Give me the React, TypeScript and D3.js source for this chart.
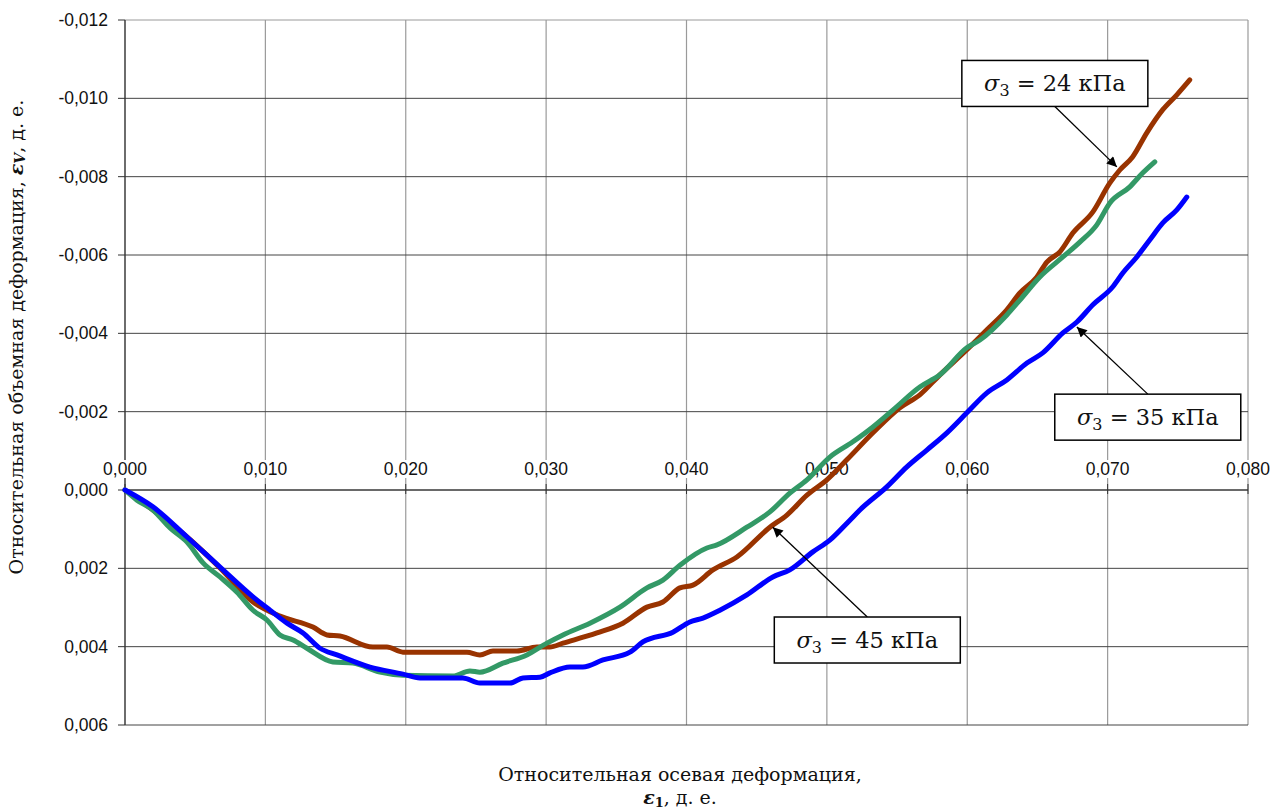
import React from "react";
import * as d3 from "d3";

// strain values in thousandths (x = axial strain, y = volumetric strain, + is compression)
const curve24: [number, number][] = [
  [0, 0], [1.99, 0.51], [4.42, 1.2], [6.77, 1.99], [9.12, 2.86], [11.04, 3.22], [13.39, 3.5],
  [14.39, 3.7], [15.31, 3.73], [17.66, 4.01], [18.66, 4.01], [19.8, 4.14], [24.36, 4.14],
  [25.28, 4.21], [26.21, 4.11], [27.92, 4.11], [29.34, 4.01], [30.27, 4.01], [31.2, 3.91],
  [33.62, 3.65], [35.47, 3.4], [37.18, 2.99], [38.32, 2.86], [39.53, 2.5], [40.46, 2.43],
  [41.88, 2.04], [43.59, 1.71], [45.94, 0.95], [47.15, 0.64], [48.58, 0.13], [50.0, -0.26],
  [51.42, -0.77], [53.28, -1.46], [55.2, -2.1], [56.62, -2.43], [58.05, -2.94], [59.97, -3.58],
  [61.4, -4.09], [62.82, -4.6], [63.75, -5.03], [64.96, -5.44], [65.67, -5.82], [66.6, -6.08],
  [67.52, -6.56], [68.95, -7.1], [70.16, -7.84], [70.87, -8.17], [71.79, -8.51], [72.79, -9.12],
  [73.93, -9.71], [74.93, -10.09], [75.85, -10.47],
];

const curve35: [number, number][] = [
  [0, 0], [1.99, 0.43], [4.42, 1.2], [6.77, 1.97], [9.12, 2.73], [10.33, 3.07], [11.54, 3.4],
  [12.68, 3.65], [13.89, 4.04], [15.1, 4.21], [17.45, 4.52], [19.8, 4.7], [21.01, 4.8],
  [24.07, 4.8], [25.28, 4.93], [27.42, 4.93], [28.35, 4.8], [29.56, 4.78], [30.27, 4.67],
  [31.7, 4.52], [32.62, 4.52], [34.05, 4.34], [35.97, 4.14], [36.89, 3.88], [39.03, 3.63],
  [40.24, 3.37], [41.17, 3.27], [42.38, 3.07], [44.3, 2.68], [46.15, 2.22], [47.36, 2.04],
  [49.0, 1.58], [50.21, 1.28], [51.64, 0.77], [52.35, 0.51], [54.27, -0.08], [55.7, -0.59],
  [57.12, -1.02], [58.55, -1.46], [59.97, -1.97], [61.4, -2.48], [62.82, -2.81], [64.25, -3.24],
  [65.38, -3.5], [66.81, -4.01], [67.81, -4.29], [68.95, -4.73], [70.37, -5.19], [71.08, -5.54],
  [72.08, -5.95], [73.01, -6.39], [73.93, -6.82], [74.93, -7.15], [75.64, -7.48],
];

const curve45: [number, number][] = [
  [0, 0], [0.85, 0.26], [1.99, 0.51], [3.21, 0.97], [4.42, 1.33], [5.56, 1.86], [6.77, 2.22],
  [7.98, 2.61], [9.12, 3.07], [10.11, 3.32], [11.04, 3.7], [11.97, 3.83], [12.96, 4.04],
  [14.81, 4.39], [16.24, 4.42], [18.16, 4.65], [19.8, 4.73], [23.36, 4.75], [24.57, 4.62],
  [25.28, 4.65], [26.92, 4.42], [28.63, 4.21], [30.06, 3.91], [31.2, 3.7], [33.12, 3.4],
  [35.26, 2.99], [37.18, 2.5], [38.32, 2.3], [39.53, 1.92], [41.45, 1.48], [42.17, 1.4],
  [44.3, 0.95], [45.94, 0.56], [47.36, 0.08], [48.58, -0.26], [50.21, -0.84], [51.85, -1.23],
  [53.28, -1.61], [54.7, -2.04], [56.62, -2.63], [58.05, -2.94], [59.97, -3.63], [60.9, -3.83],
  [62.82, -4.47], [63.75, -4.85], [65.17, -5.44], [66.81, -5.95], [68.02, -6.33], [69.23, -6.77],
  [70.16, -7.33], [71.58, -7.74], [72.51, -8.1], [73.36, -8.38],
];

const xTicks = [0, 10, 20, 30, 40, 50, 60, 70, 80];
const yTicks = [-12, -10, -8, -6, -4, -2, 0, 2, 4, 6];

// label: pressure, box centre and arrow tip (data units)
const labels = [
  { p: "24", box: [66.24, -10.38], tip: [70.66, -8.25] },
  { p: "35", box: [72.86, -1.86], tip: [67.81, -4.16] },
  { p: "45", box: [52.88, 3.83], tip: [46.15, 0.95] },
];

const series = [
  { data: curve24, color: "#993300" },
  { data: curve45, color: "#339966" },
  { data: curve35, color: "#0000ff" },
];

const fmt = (v: number) => (v === 0 ? "0,000" : (v / 1000).toFixed(3).replace(".", ","));

export default function App() {
  const W = 1275, H = 811;
  const left = 125, right = 1248, top = 20, bottom = 725;
  const x = d3.scaleLinear().domain([0, 80]).range([left, right]);
  const y = d3.scaleLinear().domain([-12, 6]).range([top, bottom]);
  const line = d3
    .line<[number, number]>()
    .x((d) => x(d[0]))
    .y((d) => y(d[1]))
    .curve(d3.curveMonotoneX);

  const serif = "'DejaVu Serif', serif";
  const sans = "'Liberation Sans', Arial, sans-serif";
  const bw = 186, bh = 46;

  return (
    <svg width={W} height={H} style={{ position: "absolute", left: 0, top: 0, background: "#fff" }}>
      <defs>
        <marker id="arr" viewBox="0 0 10 10" refX="10" refY="5" markerWidth="13" markerHeight="10" markerUnits="userSpaceOnUse" orient="auto">
          <path d="M0,0 L10,5 L0,10 z" fill="#000" />
        </marker>
      </defs>

      {/* grid */}
      {xTicks.map((t) => (
        <line key={"vx" + t} x1={x(t)} x2={x(t)} y1={top} y2={bottom} stroke="#9a9a9a" strokeWidth={1.2} />
      ))}
      {yTicks.map((t) => (
        <line key={"hy" + t} x1={left} x2={right} y1={y(t)} y2={y(t)} stroke={t === -12 ? "#9a9a9a" : "#444"} strokeWidth={1} />
      ))}

      {/* y axis */}
      <line x1={left} x2={left} y1={top} y2={bottom} stroke="#333" strokeWidth={1.2} />
      {yTicks.map((t) => (
        <g key={"yt" + t}>
          <line x1={left - 7} x2={left} y1={y(t)} y2={y(t)} stroke="#333" />
          <text x={left - 17} y={y(t)} dy="0.35em" textAnchor="end" fontFamily={sans} fontSize={17.5} fill="#111">
            {fmt(t)}
          </text>
        </g>
      ))}

      {/* x axis at zero */}
      <line x1={left} x2={right} y1={y(0)} y2={y(0)} stroke="#333" strokeWidth={1.2} />
      {xTicks.map((t) => (
        <g key={"xt" + t}>
          <line x1={x(t)} x2={x(t)} y1={y(0) - 6} y2={y(0) + 4} stroke="#333" />
          <rect x={x(t) - 25} y={y(0) - 30} width={50} height={18} fill="#fff" />
          <text x={x(t)} y={y(0) - 15} textAnchor="middle" fontFamily={sans} fontSize={17.5} fill="#111">
            {fmt(t)}
          </text>
        </g>
      ))}

      {/* curves */}
      {series.map((s, i) => (
        <path key={i} d={line(s.data) || ""} fill="none" stroke={s.color} strokeWidth={5} strokeLinejoin="round" strokeLinecap="round" />
      ))}

      {/* callouts */}
      {labels.map((l) => {
        const cx = x(l.box[0]), cy = y(l.box[1]);
        const tx = x(l.tip[0]), ty = y(l.tip[1]);
        const sy = ty > cy ? cy + bh / 2 : cy - bh / 2;
        return (
          <g key={l.p}>
            <line x1={cx} y1={sy} x2={tx} y2={ty} stroke="#000" strokeWidth={1.3} markerEnd="url(#arr)" />
            <rect x={cx - bw / 2} y={cy - bh / 2} width={bw} height={bh} fill="#fff" stroke="#000" strokeWidth={1.5} />
            <text x={cx} y={cy + 8} textAnchor="middle" fontFamily={serif} fontSize={22.5} fill="#111">
              <tspan fontStyle="italic">σ</tspan>
              <tspan fontSize={16} dy={5}>3</tspan>
              <tspan dy={-5}>{" = " + l.p + " кПа"}</tspan>
            </text>
          </g>
        );
      })}

      {/* axis titles */}
      <text x={680} y={781} textAnchor="middle" fontFamily={serif} fontSize={19} fill="#111">
        Относительная осевая деформация,
      </text>
      <text x={680} y={804} textAnchor="middle" fontFamily={serif} fontSize={19} fill="#111">
        <tspan fontWeight="bold" fontStyle="italic">ε</tspan>
        <tspan fontWeight="bold" fontSize={13} dy={3}>1</tspan>
        <tspan dy={-3}>, д. е.</tspan>
      </text>
      <text transform="translate(23,337) rotate(-90)" textAnchor="middle" fontFamily={serif} fontSize={19} fill="#111">
        Относительная объемная деформация,{" "}
        <tspan fontWeight="bold" fontStyle="italic">ε</tspan>
        <tspan fontWeight="bold" fontStyle="italic" fontSize={14} dy={2}>V</tspan>
        <tspan dy={-2}>, д. е.</tspan>
      </text>
    </svg>
  );
}
